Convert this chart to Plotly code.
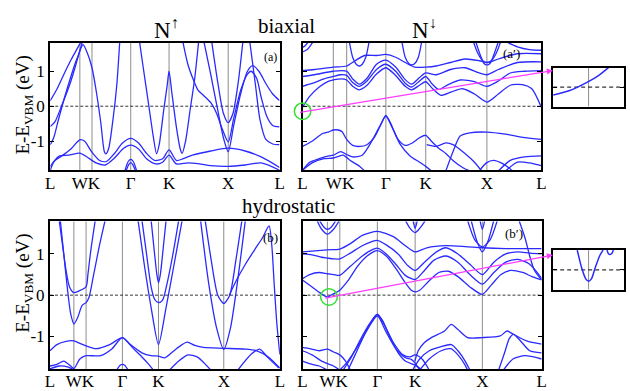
import plotly.graph_objects as go

W, H = 630, 391
BLUE = "#2a2aff"
GRAY = "#8c8c8c"
FONT = "Liberation Serif"

KPT_LABELS = ["L", "WK", "Γ", "K", "X", "L"]
KPTS_A = [0, 0.129, 0.182, 0.351, 0.518, 0.776, 1.0]
KPTS_A2 = [0, 0.129, 0.185, 0.349, 0.516, 0.772, 1.0]
KPTS_B = [0, 0.104, 0.157, 0.315, 0.472, 0.756, 1.0]
KPTS_B2 = [0, 0.104, 0.156, 0.313, 0.471, 0.752, 1.0]
YTICKS = [-1, 0, 1]
YTICK_TEXT = ["-1", "0", "1"]
YRANGE_A = [-1.83, 1.82]
YRANGE_B = [-1.79, 1.79]

# ---------------- panel (a): N-up, biaxial ----------------
BANDS_A = [
    [(0, 0.16), (0.03, 0.5), (0.06, 0.92), (0.09, 1.32), (0.115, 1.62), (0.135, 1.85)],
    [(0, -0.58), (0.02, -0.45), (0.05, 0.02), (0.085, 0.62), (0.11, 1.15), (0.13, 1.6), (0.143, 1.76),
     (0.16, 1.55), (0.182, 1.1), (0.2, 0.45), (0.22, -0.45), (0.236, -1.3), (0.243, -1.36),
     (0.255, -1.2), (0.275, -0.3), (0.29, 0.6), (0.303, 1.85)],
    [(0, -1.1), (0.015, -0.9), (0.035, -0.4), (0.06, 0.2), (0.09, 0.85), (0.11, 1.25), (0.125, 1.5), (0.14, 1.85)],
    [(0.389, 1.85), (0.41, 0.9), (0.43, 0.0), (0.45, -0.9), (0.4635, -1.36), (0.475, -1.1), (0.495, -0.1),
     (0.51, 0.6), (0.518, 1.0), (0.53, 0.4), (0.55, -0.6), (0.566, -1.2), (0.575, -1.35), (0.59, -1.0),
     (0.61, -0.1), (0.63, 0.8), (0.647, 1.85)],
    [(0.578, 1.85), (0.6, 1.2), (0.625, 0.74), (0.645, 0.45), (0.67, 0.3), (0.7, 0.1), (0.725, -0.2),
     (0.75, -0.65), (0.776, -1.02), (0.8, -0.35), (0.83, 0.45), (0.86, 0.92), (0.876, 1.0), (0.9, 0.8),
     (0.92, 0.25), (0.945, -0.3), (0.97, -0.55), (1.0, -0.59)],
    [(0.704, 1.85), (0.73, 0.7), (0.755, -0.2), (0.776, -0.47), (0.797, -0.2), (0.82, 0.7), (0.84, 1.85)],
    [(0.67, 1.85), (0.7, 0.9), (0.73, -0.1), (0.755, -0.9), (0.776, -1.3), (0.8, -0.55), (0.83, 0.35),
     (0.86, 1.0), (0.883, 1.16), (0.91, 1.0), (0.94, 0.65), (0.97, 0.35), (1.0, 0.16)],
    [(0.87, 1.85), (0.895, 0.6), (0.915, -0.4), (0.94, -0.95), (0.97, -1.08), (1.0, -1.1)],
    [(0, -1.72), (0.02, -1.55), (0.05, -1.42), (0.09, -1.22), (0.129, -0.96), (0.15, -1.0), (0.18, -1.3),
     (0.215, -1.55), (0.245, -1.58), (0.28, -1.35), (0.315, -1.05), (0.351, -0.92), (0.385, -1.05),
     (0.42, -1.35), (0.455, -1.55), (0.49, -1.5), (0.518, -1.25), (0.55, -1.55), (0.58, -1.5),
     (0.62, -1.4), (0.7, -1.28), (0.776, -1.2), (0.85, -1.28), (0.92, -1.45), (1.0, -1.75)],
    [(0, -1.83), (0.015, -1.6), (0.04, -1.42), (0.08, -1.4), (0.129, -1.34), (0.16, -1.45), (0.2, -1.62),
     (0.24, -1.68), (0.28, -1.48), (0.32, -1.2), (0.351, -1.11), (0.385, -1.22), (0.42, -1.5),
     (0.46, -1.65), (0.49, -1.6), (0.518, -1.4), (0.55, -1.65), (0.6, -1.62), (0.65, -1.65),
     (0.7, -1.7), (0.776, -1.72), (0.85, -1.68), (0.92, -1.62), (1.0, -1.83)],
    [(0.325, -1.85), (0.34, -1.58), (0.351, -1.52), (0.362, -1.58), (0.377, -1.85)],
    [(0.33, -1.85), (0.343, -1.66), (0.351, -1.61), (0.359, -1.66), (0.372, -1.85)],
]

# ---------------- panel (a'): N-down, biaxial ----------------
BANDS_A2 = [
    [(0, -0.03), (0.03, 0.28), (0.07, 0.55), (0.11, 0.72), (0.129, 0.75), (0.16, 0.78), (0.185, 0.75),
     (0.21, 0.57), (0.238, 0.47), (0.27, 0.6), (0.31, 0.92), (0.349, 1.1), (0.39, 0.88), (0.43, 0.57),
     (0.457, 0.47), (0.49, 0.6), (0.516, 0.7), (0.545, 0.5), (0.58, 0.31), (0.62, 0.4), (0.67, 0.5),
     (0.72, 0.35), (0.772, 0.12), (0.82, 0.35), (0.87, 0.6), (0.92, 0.62), (0.96, 0.5), (1.0, -0.03)],
    [(0, 0.57), (0.04, 0.65), (0.09, 0.78), (0.129, 0.85), (0.16, 0.9), (0.185, 0.88), (0.21, 0.68),
     (0.238, 0.57), (0.27, 0.72), (0.31, 1.05), (0.349, 1.2), (0.39, 1.0), (0.43, 0.66), (0.457, 0.55),
     (0.49, 0.72), (0.516, 0.85), (0.545, 0.62), (0.57, 0.48), (0.61, 0.62), (0.66, 0.75), (0.72, 0.7),
     (0.772, 0.57), (0.82, 0.72), (0.87, 0.95), (0.93, 1.0), (1.0, 1.02)],
    [(0, 0.85), (0.05, 0.9), (0.129, 1.0), (0.185, 1.0), (0.21, 0.78), (0.238, 0.63), (0.27, 0.8),
     (0.31, 1.2), (0.349, 1.32), (0.39, 1.12), (0.43, 0.76), (0.457, 0.63), (0.49, 0.82), (0.516, 0.95),
     (0.56, 0.9), (0.62, 1.05), (0.68, 1.1), (0.74, 0.95), (0.772, 0.9), (0.82, 1.05), (0.9, 1.25),
     (1.0, 1.27)],
    [(0, 1.02), (0.05, 1.05), (0.129, 1.12), (0.185, 1.15), (0.22, 1.3), (0.26, 1.45), (0.31, 1.45),
     (0.349, 1.48), (0.39, 1.4), (0.43, 1.25), (0.47, 1.12), (0.516, 1.12), (0.56, 1.15), (0.62, 1.25),
     (0.68, 1.35), (0.74, 1.3), (0.772, 1.25), (0.82, 1.35), (0.9, 1.5), (1.0, 1.5)],
    [(0.196, 1.85), (0.21, 1.4), (0.225, 1.2), (0.238, 1.15), (0.25, 1.2), (0.265, 1.4), (0.279, 1.85)],
    [(0.416, 1.85), (0.43, 1.4), (0.445, 1.22), (0.457, 1.18), (0.47, 1.22), (0.485, 1.4), (0.499, 1.85)],
    [(0.715, 1.85), (0.735, 1.5), (0.755, 1.3), (0.772, 1.25), (0.79, 1.3), (0.81, 1.5), (0.83, 1.85)],
    [(0.725, 1.85), (0.745, 1.45), (0.76, 1.22), (0.772, 1.18), (0.785, 1.22), (0.8, 1.45), (0.82, 1.85)],
    [(0, 1.55), (0.02, 1.62), (0.045, 1.85)],
    [(0, 1.68), (0.01, 1.72), (0.025, 1.85)],
    [(0.85, 1.85), (0.9, 1.7), (0.95, 1.62), (1.0, 1.6)],
    [(0, -1.15), (0.04, -1.0), (0.084, -0.78), (0.111, -0.73), (0.129, -0.68), (0.15, -0.68),
     (0.166, -0.73), (0.185, -0.95), (0.21, -1.12), (0.24, -1.15), (0.27, -1.1), (0.3, -0.9),
     (0.33, -0.5), (0.349, -0.26), (0.37, -0.5), (0.4, -0.95), (0.43, -1.12), (0.46, -1.05),
     (0.49, -0.9), (0.516, -0.83), (0.54, -1.0), (0.57, -1.2), (0.6, -1.35), (0.63, -1.55),
     (0.67, -1.75), (0.7, -1.85)],
    [(0, -1.83), (0.03, -1.6), (0.07, -1.5), (0.11, -1.42), (0.129, -1.4), (0.16, -1.3), (0.185, -1.38),
     (0.21, -1.45), (0.25, -1.4), (0.29, -1.0), (0.325, -0.55), (0.349, -0.28), (0.375, -0.6),
     (0.41, -1.1), (0.45, -1.42), (0.49, -1.6), (0.516, -1.72), (0.54, -1.85)],
    [(0, -1.83), (0.04, -1.62), (0.09, -1.5), (0.129, -1.48), (0.17, -1.4), (0.2, -1.55), (0.24, -1.72),
     (0.26, -1.85)],
    [(0.6, -1.85), (0.63, -1.3), (0.66, -0.85), (0.7, -0.76), (0.772, -0.74), (0.85, -0.8), (0.93, -0.9),
     (1.0, -0.95)],
    [(0.52, -1.1), (0.56, -1.15), (0.6, -1.05), (0.63, -1.1), (0.68, -1.35), (0.72, -1.6), (0.75, -1.85)],
    [(0.74, -1.85), (0.77, -1.62), (0.8, -1.55), (0.84, -1.65), (0.88, -1.85)],
    [(0.82, -1.85), (0.87, -1.55), (0.93, -1.45), (1.0, -1.42)],
    [(0.85, -1.85), (0.9, -1.6), (0.95, -1.62), (1.0, -1.7)],
]

# ---------------- panel (b): N-up, hydrostatic ----------------
BANDS_B = [
    [(0.04, 1.82), (0.055, 1.2), (0.07, 0.6), (0.085, 0.2), (0.104, 0.06), (0.125, 0.1), (0.157, 0.2),
     (0.165, 0.5), (0.178, 1.1), (0.197, 1.82)],
    [(0.045, 1.82), (0.06, 1.0), (0.075, 0.2), (0.09, -0.45), (0.104, -0.7), (0.12, -0.55),
     (0.14, -0.25), (0.157, -0.18), (0.17, -0.05), (0.19, 0.5), (0.215, 1.2), (0.24, 1.82)],
    [(0.383, 1.82), (0.41, 0.75), (0.44, -0.3), (0.472, -1.2), (0.505, -0.3), (0.54, 0.75), (0.575, 1.82)],
    [(0.4, 1.82), (0.42, 1.0), (0.44, 0.2), (0.455, -0.1), (0.472, -0.18), (0.49, -0.12), (0.51, 0.3),
     (0.535, 1.0), (0.56, 1.82)],
    [(0.44, 1.82), (0.455, 1.0), (0.465, 0.5), (0.472, 0.3), (0.48, 0.5), (0.49, 1.0), (0.505, 1.82)],
    [(0.675, 1.82), (0.7, 0.9), (0.73, 0.0), (0.756, -0.2), (0.782, 0.0), (0.81, 0.9), (0.835, 1.82)],
    [(0.655, 1.82), (0.69, 0.3), (0.725, -0.8), (0.756, -1.32), (0.785, -0.8), (0.815, 0.3), (0.85, 1.82)],
    [(0.78, 0.0), (0.81, 0.35), (0.85, 0.75), (0.89, 1.1), (0.925, 1.4), (0.953, 1.68), (0.965, 1.2),
     (0.975, 0.3), (0.987, -0.7), (1.0, -1.44)],
    [(0, -1.35), (0.03, -1.2), (0.07, -1.12), (0.104, -1.11), (0.13, -1.17), (0.157, -1.23), (0.2, -1.3),
     (0.26, -1.2), (0.315, -1.03), (0.35, -1.2), (0.4, -1.4), (0.44, -1.47), (0.472, -1.48), (0.5, -1.52),
     (0.55, -1.3), (0.596, -1.14), (0.63, -1.22), (0.668, -1.27), (0.756, -1.29), (0.85, -1.31),
     (0.9, -1.35), (0.95, -1.5), (1.0, -1.77)],
    [(0, -1.72), (0.03, -1.68), (0.06, -1.6), (0.09, -1.72), (0.104, -1.78), (0.13, -1.55), (0.157, -1.47),
     (0.22, -1.47), (0.27, -1.3), (0.315, -1.03), (0.36, -1.28), (0.4, -1.5), (0.43, -1.68), (0.45, -1.82)],
    [(0.29, -1.82), (0.305, -1.7), (0.315, -1.68), (0.325, -1.7), (0.34, -1.82)],
    [(0, -1.79), (0.04, -1.72), (0.08, -1.75), (0.104, -1.82)],
    [(0.817, -1.82), (0.876, -1.43), (0.912, -1.31), (0.947, -1.51), (0.996, -1.77)],
    [(0.52, -1.82), (0.56, -1.6), (0.6, -1.45), (0.64, -1.5), (0.68, -1.7), (0.7, -1.82)],
]

# ---------------- panel (b'): N-down, hydrostatic ----------------
BANDS_B2 = [
    [(0, 0.37), (0.04, 0.2), (0.075, 0.05), (0.104, -0.05), (0.125, 0.02), (0.156, 0.12), (0.19, 0.35),
     (0.23, 0.7), (0.27, 0.95), (0.313, 1.08), (0.35, 0.95), (0.39, 0.65), (0.43, 0.3), (0.455, 0.12),
     (0.471, 0.08), (0.49, 0.12), (0.53, 0.35), (0.57, 0.55), (0.61, 0.58), (0.65, 0.45), (0.7, 0.2),
     (0.752, 0.02), (0.79, 0.25), (0.83, 0.5), (0.87, 0.6), (0.92, 0.55), (0.96, 0.45), (1.0, 0.37)],
    [(0, 0.4), (0.03, 0.5), (0.07, 0.55), (0.104, 0.52), (0.13, 0.5), (0.156, 0.48), (0.2, 0.7),
     (0.25, 0.95), (0.29, 1.1), (0.313, 1.14), (0.35, 1.0), (0.39, 0.75), (0.43, 0.48), (0.471, 0.38),
     (0.51, 0.6), (0.55, 0.85), (0.6, 0.95), (0.65, 0.8), (0.7, 0.5), (0.752, 0.27), (0.8, 0.55),
     (0.85, 0.8), (0.9, 0.87), (0.95, 0.75), (1.0, 0.41)],
    [(0, 1.0), (0.04, 0.98), (0.08, 0.92), (0.104, 0.9), (0.13, 0.88), (0.156, 0.88), (0.2, 1.02),
     (0.25, 1.2), (0.29, 1.3), (0.313, 1.33), (0.35, 1.22), (0.4, 1.0), (0.44, 0.72), (0.471, 0.6),
     (0.51, 0.8), (0.56, 1.05), (0.6, 1.15), (0.65, 1.0), (0.7, 0.75), (0.752, 0.5), (0.8, 0.8),
     (0.85, 1.0), (0.9, 1.05), (0.95, 1.02), (1.0, 1.0)],
    [(0, 1.05), (0.104, 1.1), (0.156, 1.12), (0.2, 1.25), (0.25, 1.45), (0.313, 1.55), (0.38, 1.42),
     (0.43, 1.2), (0.471, 1.05), (0.52, 1.15), (0.6, 1.2), (0.68, 1.18), (0.752, 1.15), (0.85, 1.13),
     (1.0, 1.13)],
    [(0.06, 1.82), (0.08, 1.6), (0.104, 1.48), (0.13, 1.6), (0.155, 1.82)],
    [(0.07, 1.82), (0.09, 1.65), (0.104, 1.6), (0.12, 1.65), (0.14, 1.82)],
    [(0.43, 1.82), (0.45, 1.62), (0.471, 1.52), (0.49, 1.62), (0.515, 1.82)],
    [(0.462, 1.82), (0.471, 1.62), (0.48, 1.82)],
    [(0.69, 1.82), (0.72, 1.35), (0.752, 1.17), (0.785, 1.35), (0.815, 1.82)],
    [(0.705, 1.82), (0.73, 1.3), (0.752, 1.05), (0.775, 1.3), (0.8, 1.82)],
    [(0.742, 1.82), (0.752, 1.6), (0.762, 1.82)],
    [(0.905, 1.82), (0.93, 1.4), (0.95, 0.95), (0.97, 0.6), (1.0, 0.37)],
    [(0.19, -1.82), (0.22, -1.45), (0.26, -0.95), (0.29, -0.62), (0.313, -0.46), (0.335, -0.62),
     (0.36, -0.95), (0.4, -1.4), (0.43, -1.6), (0.471, -1.7), (0.5, -1.82)],
    [(0.17, -1.82), (0.2, -1.55), (0.24, -1.1), (0.28, -0.7), (0.313, -0.47), (0.345, -0.75),
     (0.38, -1.15), (0.42, -1.45), (0.45, -1.5), (0.471, -1.45), (0.5, -1.55), (0.53, -1.82)],
    [(0.156, -1.82), (0.19, -1.6), (0.23, -1.25), (0.27, -0.85), (0.313, -0.5), (0.35, -0.9),
     (0.39, -1.3), (0.43, -1.52), (0.455, -1.56), (0.471, -1.65), (0.49, -1.82)],
    [(0, -1.27), (0.03, -1.3), (0.07, -1.35), (0.104, -1.31), (0.13, -1.38), (0.156, -1.45),
     (0.18, -1.6), (0.2, -1.82)],
    [(0, -1.35), (0.04, -1.45), (0.08, -1.6), (0.104, -1.66), (0.13, -1.72), (0.156, -1.82)],
    [(0, -1.6), (0.04, -1.68), (0.07, -1.72), (0.104, -1.82)],
    [(0.47, -1.6), (0.484, -1.35), (0.51, -1.15), (0.539, -1.03), (0.594, -0.87), (0.622, -0.71),
     (0.649, -0.83), (0.69, -1.03), (0.752, -1.03), (0.827, -0.99), (0.855, -0.87), (0.882, -0.95),
     (0.937, -1.11), (1.0, -1.19)],
    [(0.46, -1.82), (0.49, -1.55), (0.53, -1.35), (0.58, -1.25), (0.622, -1.2), (0.65, -1.35),
     (0.68, -1.6), (0.7, -1.82)],
    [(0.49, -1.82), (0.53, -1.55), (0.58, -1.35), (0.62, -1.3), (0.65, -1.45), (0.68, -1.7), (0.69, -1.82)],
    [(0.82, -1.82), (0.845, -1.4), (0.865, -1.05), (0.882, -0.95), (0.91, -1.1), (0.95, -1.35), (1.0, -1.4)],
    [(0.84, -1.82), (0.88, -1.55), (0.93, -1.47), (1.0, -1.55)],
]

# insets (zoomed views, arbitrary k units, scaled energy)
INSET_A_K = [-1.0, -0.55, -0.02, 0.3, 0.56]
INSET_A_E = [-0.4, -0.19, 0.27, 0.62, 1.0]
INSET_B_K = [-0.32, -0.19, -0.08, 0.0, 0.08, 0.18, 0.32, 0.41]
INSET_B_E = [1.0, 0.07, -0.45, -0.57, -0.45, 0.07, 0.74, 1.0]
INSET_B2_K = [0.52, 0.56, 0.61, 0.66, 0.7]
INSET_B2_E = [1.0, 0.82, 0.78, 0.84, 1.0]


def px(x):
    return x / W


def py(y):
    return 1 - y / H


fig = go.Figure()

panels = [
    ("x", "y", BANDS_A, KPTS_A, YRANGE_A, (46, 279), (43, 172), True),
    ("x2", "y2", BANDS_A2, KPTS_A2, YRANGE_A, (302.3, 545), (43, 172), False),
    ("x3", "y3", BANDS_B, KPTS_B, YRANGE_B, (45.7, 279.3), (223.7, 372.7), True),
    ("x4", "y4", BANDS_B2, KPTS_B2, YRANGE_B, (302.3, 545.3), (223.7, 372.7), False),
]

layout = dict(
    width=W, height=H, margin=dict(l=0, r=0, t=0, b=0),
    paper_bgcolor="white", plot_bgcolor="white", showlegend=False,
    font=dict(family=FONT, color="black"),
)
shapes = []
annotations = []

for xa, ya, bands, kpts, yr, (x0, x1), (y0, y1), left in panels:
    # high-symmetry vertical lines
    for kv in kpts[1:-1]:
        shapes.append(dict(type="line", xref=xa, yref=ya, x0=kv, x1=kv, y0=yr[0], y1=yr[1],
                           line=dict(color=GRAY, width=1), layer="below"))
    shapes.append(dict(type="line", xref=xa, yref=ya, x0=0, x1=1, y0=0, y1=0,
                       line=dict(color="black", width=0.8, dash="3px,2px"), layer="below"))
    for band in bands:
        fig.add_trace(go.Scatter(
            x=[p[0] for p in band], y=[p[1] for p in band], mode="lines",
            line=dict(color=BLUE, width=1.3, shape="spline", smoothing=0.7),
            xaxis=xa, yaxis=ya, hoverinfo="skip"))
    tick_pos = [kpts[0], (kpts[1] + kpts[2]) / 2] + kpts[3:]
    layout["xaxis" + xa[1:]] = dict(
        domain=[px(x0), px(x1)], range=[0, 1], anchor=ya,
        tickvals=tick_pos, ticktext=KPT_LABELS, tickangle=0, ticks="",
        ticklabelstandoff=-4,
        showgrid=False, zeroline=False,
        showline=True, mirror=True, linecolor="black", linewidth=2,
        tickfont=dict(size=17, family=FONT, color="black"))
    layout["yaxis" + ya[1:]] = dict(
        domain=[py(y1), py(y0)], range=yr, anchor=xa,
        tickvals=YTICKS, ticktext=YTICK_TEXT, ticks="inside", ticklen=4,
        tickcolor="black", showticklabels=left, showgrid=False, zeroline=False,
        showline=True, mirror="ticks", linecolor="black", linewidth=2,
        tickfont=dict(size=17, family=FONT, color="black"))

# insets
insets = [
    ("x5", "y5", (557, 629), (68.3, 107.7), [(INSET_A_K, INSET_A_E)]),
    ("x6", "y6", (557, 629), (252.7, 292.7), [(INSET_B_K, INSET_B_E), (INSET_B2_K, INSET_B2_E)]),
]
for xa, ya, (x0, x1), (y0, y1), curves in insets:
    for kx, ey in curves:
        fig.add_trace(go.Scatter(x=kx, y=ey, mode="lines",
                                 line=dict(color=BLUE, width=1.5, shape="spline", smoothing=0.8),
                                 xaxis=xa, yaxis=ya, hoverinfo="skip"))
    layout["xaxis" + xa[1:]] = dict(domain=[px(x0), px(x1)], range=[-1, 1], anchor=ya,
                                    showticklabels=False, ticks="", showgrid=False, zeroline=False,
                                    showline=True, mirror=True, linecolor="black", linewidth=2)
    layout["yaxis" + ya[1:]] = dict(domain=[py(y1), py(y0)], range=[-1, 1], anchor=xa,
                                    showticklabels=False, tickvals=[0], ticks="inside", ticklen=4,
                                    tickcolor="black", showgrid=False, zeroline=False,
                                    showline=True, mirror="ticks", linecolor="black", linewidth=2)
    shapes.append(dict(type="line", xref=xa, yref=ya, x0=0, x1=0, y0=-1, y1=1,
                       line=dict(color=GRAY, width=1), layer="below"))
    shapes.append(dict(type="line", xref=xa, yref=ya, x0=-1, x1=1, y0=0, y1=0,
                       line=dict(color="black", width=1, dash="4px,3px"), layer="below"))

# green circles
for (cx0, cx1, cy0, cy1) in [(294, 310.7, 104, 120.7), (320.7, 337.7, 291.7, 308.3)]:
    shapes.append(dict(type="circle", xref="paper", yref="paper",
                       x0=px(cx0), x1=px(cx1), y0=py(cy1), y1=py(cy0),
                       line=dict(color="#33e033", width=1.5)))

# magenta arrows (tail offsets in pixels relative to head)
for (sx, sy, ex, ey) in [(302.3, 113.3, 556.7, 71.3), (327.7, 301, 556.7, 257.7)]:
    annotations.append(dict(x=px(ex), y=py(ey), xref="paper", yref="paper",
                            ax=sx - ex, ay=sy - ey, axref="pixel", ayref="pixel",
                            text="", showarrow=True, arrowhead=2, arrowsize=1,
                            arrowwidth=1.2, arrowcolor="#ff3cff", standoff=0, startstandoff=0))


def txt(x, y, s, size, **kw):
    d = dict(x=px(x), y=py(y), xref="paper", yref="paper", text=s, showarrow=False,
             font=dict(size=size, family=FONT, color="black"), xanchor="center", yanchor="middle")
    d.update(kw)
    annotations.append(d)


txt(164, 29, "N<sup>↑</sup>", 23)
txt(426, 29, "N<sup>↓</sup>", 23)
txt(286, 26, "biaxial", 21)
txt(288, 208, "hydrostatic", 21)
txt(270, 58, "(a)", 12)
txt(515, 54, "(a′)", 13)
txt(270, 240, "(b)", 13)
txt(517, 236, "(b′)", 13)
txt(19, 106, "E-E<sub>VBM</sub> (eV)", 19, textangle=-90)
txt(19, 286, "E-E<sub>VBM</sub> (eV)", 19, textangle=-90)

layout["shapes"] = shapes
layout["annotations"] = annotations
fig.update_layout(**layout)
fig.write_html("out.html")
